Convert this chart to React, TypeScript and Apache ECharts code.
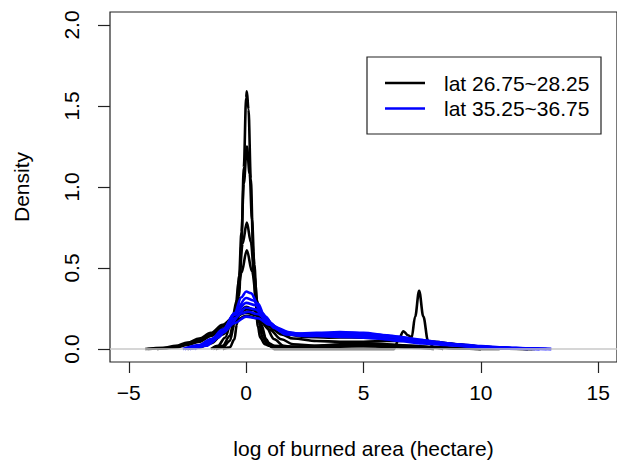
import React, { useEffect, useRef } from "react";
import * as echarts from "echarts";

type Pt = [number, number];

const groupLabels = ["lat 26.75~28.25", "lat 35.25~36.75"];
const groupColors = ["#000000", "#0000ff"];

const xTicks = [-5, 0, 5, 10, 15];
const yTicks = [0, 0.5, 1.0, 1.5, 2.0];

// lat 26.75~28.25 density curves
const black1: Pt[] = [[-1.0, 0], [-0.7, 0.01], [-0.5, 0.06], [-0.4, 0.15], [-0.3, 0.33], [-0.2, 0.65], [-0.1, 1.12], [0.0, 1.55], [0.03, 1.59], [0.1, 1.48], [0.2, 1.05], [0.3, 0.6], [0.4, 0.3], [0.5, 0.14], [0.6, 0.07], [0.8, 0.03], [1.0, 0.02], [1.5, 0.015], [2, 0.012], [3, 0.015], [4, 0.02], [5, 0.018], [6, 0.015], [7, 0.012], [8, 0.01], [9, 0.006], [10, 0.004], [11, 0.002], [12, 0]];
const black2: Pt[] = [[-1.3, 0], [-1.0, 0.01], [-0.7, 0.05], [-0.5, 0.15], [-0.4, 0.27], [-0.3, 0.45], [-0.2, 0.72], [-0.1, 1.02], [0.03, 1.25], [0.15, 1.08], [0.25, 0.8], [0.35, 0.52], [0.45, 0.3], [0.55, 0.16], [0.7, 0.07], [0.9, 0.03], [1.2, 0.015], [2, 0.01], [3, 0.012], [4, 0.018], [5, 0.022], [6, 0.018], [7, 0.012], [8, 0.008], [9, 0.004], [10, 0.001], [10.8, 0]];
const black3: Pt[] = [[-1.4, 0], [-1.0, 0.02], [-0.7, 0.08], [-0.5, 0.2], [-0.3, 0.42], [-0.15, 0.65], [0.03, 0.78], [0.2, 0.66], [0.35, 0.45], [0.5, 0.26], [0.7, 0.1], [0.9, 0.04], [1.2, 0.02], [2, 0.015], [3, 0.02], [4, 0.03], [5, 0.035], [6, 0.03], [7, 0.02], [8, 0.012], [9, 0.005], [10, 0]];
const black4: Pt[] = [[-1.5, 0], [-1.2, 0.02], [-0.9, 0.07], [-0.6, 0.18], [-0.4, 0.3], [-0.2, 0.47], [0.03, 0.61], [0.25, 0.48], [0.45, 0.3], [0.65, 0.15], [0.85, 0.06], [1.05, 0.015], [1.2, 0], [6.3, 0], [6.5, 0.06], [6.7, 0.11], [6.9, 0.085], [7.05, 0.07], [7.2, 0.2], [7.37, 0.36], [7.55, 0.2], [7.75, 0.05], [8.0, 0.01], [8.4, 0]];
const black5: Pt[] = [[-4.2, 0], [-3.5, 0.005], [-3, 0.015], [-2.5, 0.03], [-2, 0.055], [-1.5, 0.09], [-1, 0.14], [-0.5, 0.2], [0, 0.245], [0.3, 0.24], [0.7, 0.19], [1, 0.14], [1.5, 0.09], [2, 0.065], [3, 0.05], [4, 0.045], [5, 0.045], [6, 0.05], [7, 0.05], [8, 0.045], [9, 0.03], [10, 0.015], [11, 0.006], [12, 0.001], [12.3, 0]];
const black6: Pt[] = [[-4.3, 0], [-3.5, 0.008], [-3, 0.02], [-2.5, 0.04], [-2, 0.065], [-1.5, 0.1], [-1, 0.15], [-0.5, 0.2], [0, 0.225], [0.4, 0.21], [0.8, 0.16], [1.2, 0.12], [1.8, 0.09], [2.5, 0.075], [3.5, 0.07], [4.5, 0.072], [5.5, 0.068], [6.5, 0.058], [7.5, 0.05], [8.5, 0.035], [9.5, 0.02], [10.5, 0.008], [11.5, 0.002], [12.2, 0]];
const black7: Pt[] = [[-3.8, 0], [-3, 0.01], [-2.5, 0.025], [-2, 0.045], [-1.5, 0.08], [-1, 0.125], [-0.5, 0.175], [0, 0.205], [0.5, 0.19], [1, 0.12], [1.5, 0.06], [2, 0.03], [3, 0.02], [4, 0.025], [5, 0.03], [6, 0.025], [7, 0.02], [8, 0.012], [9, 0.006], [10, 0]];
const black8: Pt[] = [[-2.5, 0], [-2, 0.01], [-1.5, 0.035], [-1, 0.09], [-0.5, 0.18], [0, 0.26], [0.4, 0.24], [0.8, 0.15], [1.2, 0.06], [1.6, 0.02], [2, 0.01], [3, 0.01], [4, 0.015], [5, 0.02], [5.5, 0.02], [6, 0.015], [7, 0.008], [8, 0]];

// lat 35.25~36.75 density curves
const blue1: Pt[] = [[-2.4, 0], [-2, 0.01], [-1.5, 0.04], [-1, 0.1], [-0.5, 0.22], [-0.2, 0.32], [0, 0.355], [0.2, 0.345], [0.5, 0.28], [0.8, 0.2], [1.2, 0.13], [1.7, 0.09], [2.5, 0.08], [3.5, 0.085], [4.5, 0.08], [5.5, 0.07], [6.5, 0.05], [7.5, 0.035], [8.5, 0.025], [9.5, 0.015], [10.5, 0.008], [11.5, 0.003], [12.5, 0]];
const blue2: Pt[] = [[-2.6, 0], [-2, 0.015], [-1.5, 0.05], [-1, 0.11], [-0.5, 0.22], [0, 0.315], [0.3, 0.3], [0.7, 0.22], [1, 0.16], [1.5, 0.11], [2, 0.09], [3, 0.095], [4, 0.1], [5, 0.095], [6, 0.08], [7, 0.06], [8, 0.04], [9, 0.025], [10, 0.015], [11, 0.008], [12, 0.003], [13, 0]];
const blue3: Pt[] = [[-2.7, 0], [-2, 0.02], [-1.5, 0.06], [-1, 0.12], [-0.5, 0.21], [0, 0.285], [0.4, 0.27], [0.8, 0.2], [1.2, 0.14], [1.7, 0.1], [2.5, 0.09], [3.5, 0.09], [4.5, 0.085], [5.5, 0.08], [6.5, 0.07], [7.5, 0.05], [8.5, 0.03], [9.5, 0.018], [10.5, 0.01], [11.5, 0.004], [12.5, 0]];
const blue4: Pt[] = [[-2.5, 0], [-2, 0.02], [-1.5, 0.055], [-1, 0.11], [-0.5, 0.19], [0, 0.255], [0.4, 0.245], [0.8, 0.19], [1.3, 0.13], [2, 0.095], [3, 0.1], [4, 0.105], [5, 0.1], [6, 0.085], [7, 0.065], [8, 0.045], [9, 0.03], [10, 0.018], [11, 0.01], [12, 0.004], [13, 0]];
const blue5: Pt[] = [[-2.2, 0], [-1.7, 0.02], [-1.2, 0.07], [-0.7, 0.15], [-0.2, 0.22], [0.1, 0.23], [0.5, 0.215], [1, 0.16], [1.5, 0.11], [2.2, 0.085], [3, 0.08], [4, 0.075], [5, 0.07], [6, 0.06], [7, 0.05], [8, 0.035], [9, 0.022], [10, 0.012], [11, 0.005], [12, 0]];
const blue6: Pt[] = [[-2.6, 0], [-2, 0.025], [-1.5, 0.06], [-1, 0.1], [-0.5, 0.16], [0, 0.2], [0.5, 0.19], [1, 0.15], [1.5, 0.11], [2.5, 0.09], [3.5, 0.095], [4.5, 0.1], [5.5, 0.09], [6.5, 0.075], [7.5, 0.055], [8.5, 0.035], [9.5, 0.02], [10.5, 0.01], [11.5, 0.004], [12.8, 0]];

const blackCurves = [black1, black2, black3, black4, black5, black6, black7, black8];
const blueCurves = [blue1, blue2, blue3, blue4, blue5, blue6];

const FONT = "'Liberation Sans', Arial, Helvetica, sans-serif";
const FS = 21;

export default function App() {
  const ref = useRef<HTMLDivElement>(null);
  useEffect(() => {
    if (!ref.current) return;
    const chart = echarts.init(ref.current, undefined, { renderer: "svg" });
    const mk = (curves: Pt[][], gi: number) =>
      curves.map((c) => ({
        type: "line",
        name: groupLabels[gi],
        data: c,
        showSymbol: false,
        symbol: "none",
        smooth: 0.35,
        smoothMonotone: "x",
        lineStyle: { color: groupColors[gi], width: 2.6 },
        silent: true,
        z: 3 + gi,
      }));
    const series: any[] = [
      {
        type: "line",
        name: "zero",
        data: [],
        symbol: "none",
        silent: true,
        z: 1,
        markLine: {
          silent: true,
          symbol: ["none", "none"],
          label: { show: false },
          lineStyle: { color: "#c8c8c8", type: "solid", width: 1.5 },
          data: [{ yAxis: 0 }],
        },
      },
      ...mk(blackCurves, 0),
      ...mk(blueCurves, 1),
    ];
    chart.setOption({
      animation: false,
      backgroundColor: "#ffffff",
      grid: {
        left: 110,
        top: 12,
        bottom: 102,
        right: -6,
        show: true,
        borderColor: "#222",
        borderWidth: 1.2,
        backgroundColor: "transparent",
      },
      xAxis: {
        type: "value",
        min: -5.8,
        max: 15.8,
        axisLine: { show: false, onZero: false },
        splitLine: { show: false },
        axisTick: { show: true, length: 11, customValues: xTicks, lineStyle: { color: "#222", width: 1.2 } },
        axisLabel: {
          customValues: xTicks,
          margin: 20,
          fontSize: FS,
          fontFamily: FONT,
          color: "#000",
          formatter: (v: number) => String(v).replace("-", "\u2212"),
        },
        name: "log of burned area (hectare)",
        nameLocation: "middle",
        nameGap: 76,
        nameTextStyle: { fontSize: FS, fontFamily: FONT, color: "#000" },
      },
      yAxis: {
        type: "value",
        min: -0.08,
        max: 2.08,
        axisLine: { show: false, onZero: false },
        splitLine: { show: false },
        axisTick: { show: true, length: 12, customValues: yTicks, lineStyle: { color: "#222", width: 1.2 } },
        axisLabel: {
          customValues: yTicks,
          rotate: 90,
          margin: 28,
          fontSize: FS,
          fontFamily: FONT,
          color: "#000",
          formatter: (v: number) => v.toFixed(1),
        },
        name: "Density",
        nameLocation: "middle",
        nameRotate: 90,
        nameGap: 78,
        nameTextStyle: { fontSize: FS, fontFamily: FONT, color: "#000" },
      },
      graphic: [
        {
          type: "rect",
          shape: { x: 367, y: 57, width: 234, height: 77 },
          style: { fill: "#fff", stroke: "#222", lineWidth: 1.2 },
          z: 10,
        },
        ...groupLabels.flatMap((lab, i) => [
          {
            type: "line",
            shape: { x1: 385, y1: 83 + i * 25.5, x2: 425, y2: 83 + i * 25.5 },
            style: { stroke: groupColors[i], lineWidth: 2.6 },
            z: 11,
          },
          {
            type: "text",
            x: 444,
            y: 83 + i * 25.5,
            style: {
              text: lab,
              fontSize: FS,
              fontFamily: FONT,
              fill: "#000",
              verticalAlign: "middle",
              align: "left",
            },
            z: 11,
          },
        ]),
      ],
      series,
    });
    return () => chart.dispose();
  }, []);
  return <div ref={ref} style={{ width: 617, height: 464, position: "absolute", left: 0, top: 0 }} />;
}
